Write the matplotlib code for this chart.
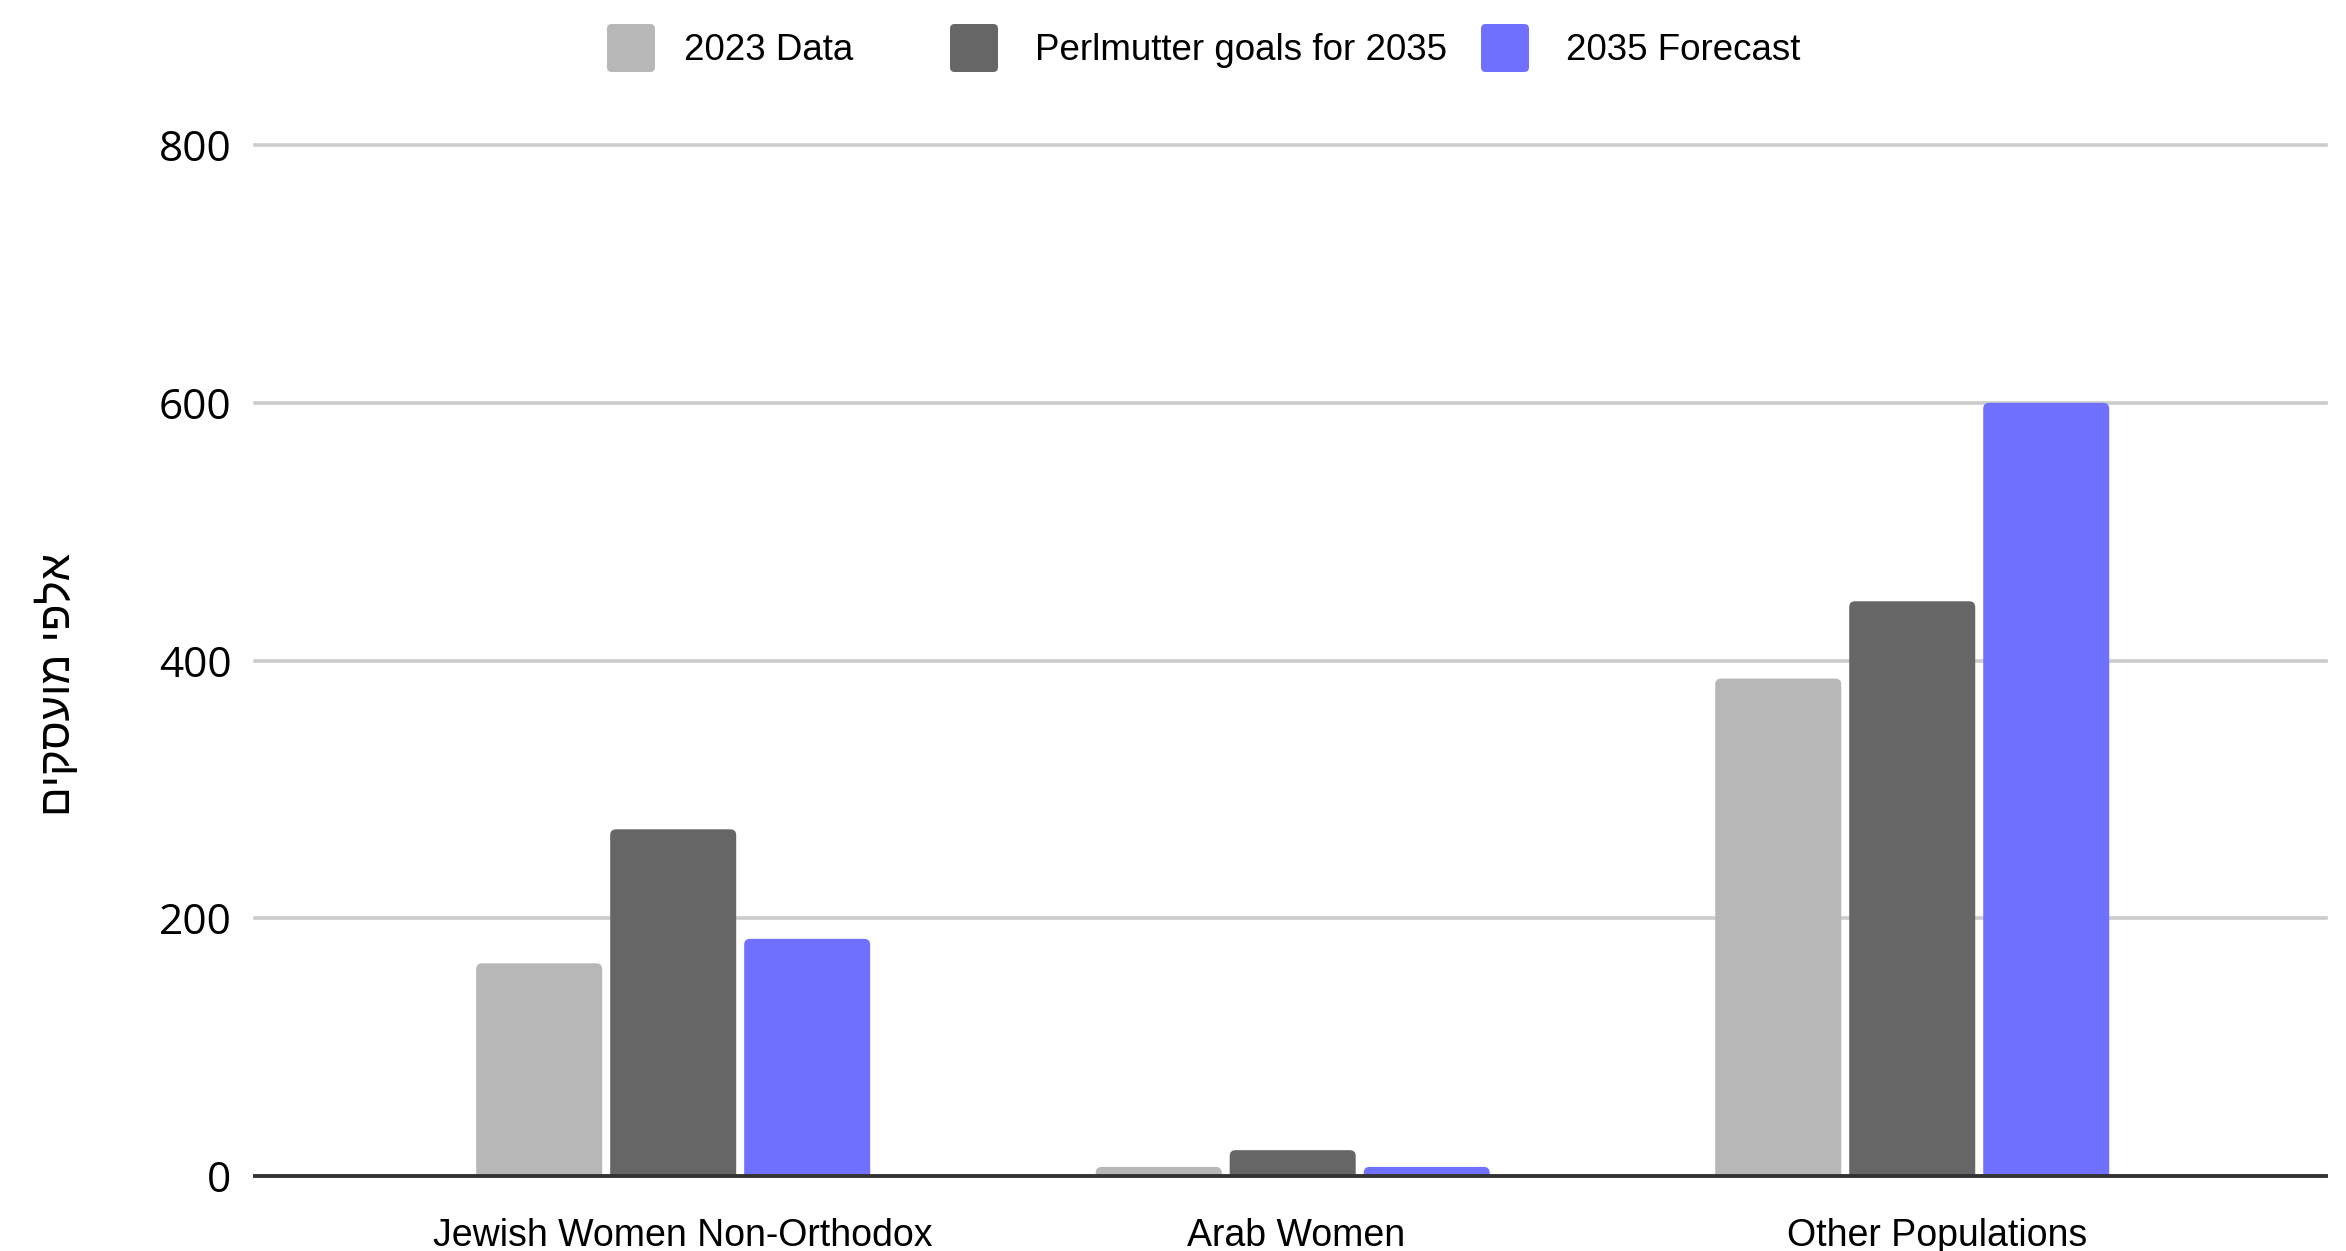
import matplotlib
matplotlib.use('Agg')
import matplotlib.pyplot as plt
from matplotlib.patches import FancyBboxPatch
from matplotlib.transforms import ScaledTranslation
import numpy as np

groups  = ['Jewish Women Non-Orthodox', 'Arab Women', 'Other Populations']
series  = ['2023 Data', 'Perlmutter goals for 2035', '2035 Forecast']
data2023     = [165, 7, 386]
perlmutter   = [269, 20, 446]
forecast2035 = [184, 7, 600]
yticks  = [0, 200, 400, 600, 800]
ylabel  = 'אלפי מועסקים'

colors = ['#b7b7b7', '#666666', '#7070ff']
values = [data2023, perlmutter, forecast2035]

fig = plt.figure(figsize=(23.46, 12.51), dpi=100)
ax = fig.add_axes([0.1087, 0.060, 0.9915 - 0.1087, 0.884 - 0.060])

x = np.arange(len(groups))
w, step = 0.2034, 0.2163
for i, (vals, c) in enumerate(zip(values, colors)):
    bars = ax.bar(x + (i - 1) * step, vals, width=w, color=c, zorder=3)
    # swap plain rectangles for ones with rounded tops
    for b in bars:
        bx, bh = b.get_x(), b.get_height()
        b.set_visible(False)
        p = FancyBboxPatch((bx, -8), w, bh + 8,
                           boxstyle='round,pad=0,rounding_size=0.0095',
                           mutation_aspect=480, fc=c, ec='none', zorder=3)
        ax.add_patch(p)

ax.set_xlim(-0.675, 2.668)
ax.set_ylim(0, 800)
ax.set_yticks(yticks)
ax.set_yticklabels([str(v) for v in yticks], fontfamily='Open Sans', fontsize=30.5)
ax.set_xticks(x)
ax.set_xticklabels(groups, fontfamily='Liberation Sans', fontsize=27)
ax.tick_params(axis='both', length=0)
ax.tick_params(axis='y', pad=17)
ax.tick_params(axis='x', pad=30)
# category labels sit a little right of the group centres
for lab, dx in zip(ax.get_xticklabels(), [10, 3, 25]):
    lab.set_transform(lab.get_transform() + ScaledTranslation(dx / 100, 0, fig.dpi_scale_trans))

for s in ax.spines.values():
    s.set_visible(False)
for v in yticks[1:]:
    ax.axhline(v, color='#cccccc', lw=2.6, zorder=1, clip_on=False)
ax.axhline(0, color='#333333', lw=2.8, zorder=4, clip_on=False)

# Hebrew label, visual order, reading upward
fig.text(0.0245, 0.453, ylabel[::-1], rotation=90, ha='center', va='center',
         fontsize=31.5, family=['Liberation Sans', 'DejaVu Sans'])

# legend row across the top
sq_x = [607, 950, 1481]
tx_x = [684, 1035, 1566]
W, H = 2346, 1251
for sx, tx, c, name in zip(sq_x, tx_x, colors, series):
    fig.patches.append(FancyBboxPatch((sx / W, 1 - 72 / H), 48 / W, 48 / H,
                                      boxstyle='round,pad=0,rounding_size=0.002',
                                      mutation_aspect=W / H,
                                      transform=fig.transFigure, fc=c, ec='none'))
    fig.text(tx / W, 1 - 51 / H, name, ha='left', va='center',
             fontsize=26.5, fontfamily='Liberation Sans')

fig.savefig('out.png', dpi=100)
